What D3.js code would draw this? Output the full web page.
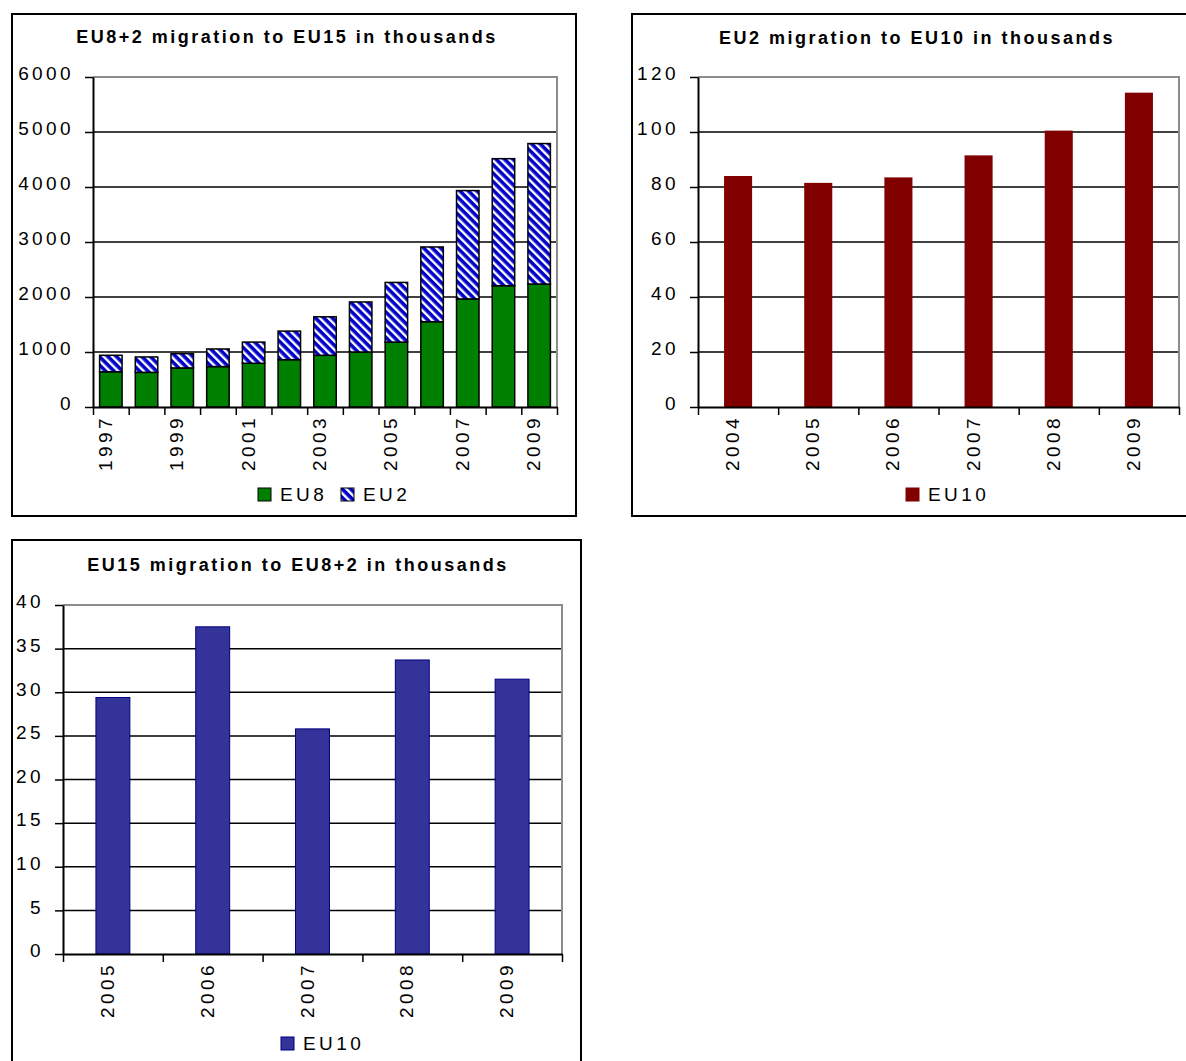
<!DOCTYPE html>
<html>
<head>
<meta charset="utf-8">
<script src="https://cdn.jsdelivr.net/npm/d3@7"></script>
<style>
  body { margin: 0; background: #fff; }
  svg { display: block; font-family: "Liberation Sans", Arial, sans-serif; }
</style>
</head>
<body>
<svg id="chart" width="1186" height="1061"></svg>
<script>
// EU8+2 migration to EU15, thousands (stacked)
const yearsA = ["1997","1998","1999","2000","2001","2002","2003","2004","2005","2006","2007","2008","2009"];
const eu8A   = [640, 630, 710, 735, 795, 860, 940, 1000, 1180, 1550, 1965, 2205, 2235];
const eu2A   = [300, 280, 260, 320, 385, 520, 700, 910, 1085, 1360, 1970, 2310, 2555];
const ticksA = [0, 1000, 2000, 3000, 4000, 5000, 6000];

// EU2 migration to EU10, thousands
const yearsB = ["2004","2005","2006","2007","2008","2009"];
const eu10B  = [84, 81.5, 83.5, 91.5, 100.5, 114.3];
const ticksB = [0, 20, 40, 60, 80, 100, 120];

// EU15 migration to EU8+2, thousands
const yearsC = ["2005","2006","2007","2008","2009"];
const eu10C  = [29.4, 37.5, 25.8, 33.7, 31.5];
const ticksC = [0, 5, 10, 15, 20, 25, 30, 35, 40];

const svg = d3.select("#chart");
const NUM_FS = 19, NUM_LS = 3.4;

// diagonal blue/white hatch used for the EU2 series
const defs = svg.append("defs");
const pat = defs.append("pattern")
  .attr("id", "hatch").attr("patternUnits", "userSpaceOnUse")
  .attr("width", 6).attr("height", 6)
  .attr("patternTransform", "rotate(-45)");
pat.append("rect").attr("width", 6).attr("height", 6).attr("fill", "#0000c8");
pat.append("rect").attr("x", 0).attr("width", 2.4).attr("height", 6).attr("fill", "#fff");

function panel(o) {
  const g = svg.append("g");
  g.append("rect")
    .attr("x", o.fx).attr("y", o.fy).attr("width", o.fw).attr("height", o.fh)
    .attr("fill", "#fff").attr("stroke", "#000").attr("stroke-width", 2);
  g.append("text")
    .attr("x", o.tx).attr("y", o.ty).attr("text-anchor", "middle")
    .attr("font-weight", "bold").attr("font-size", 18).attr("letter-spacing", 2.5)
    .text(o.title);

  const x = d3.scaleBand().domain(o.cats).range([o.x0, o.x1])
    .paddingInner(o.pad).paddingOuter(o.pad / 2);
  const y = d3.scaleLinear().domain([0, o.max]).range([o.y1, o.y0]);

  // horizontal gridlines
  g.selectAll(".grid").data(o.ticks.filter(t => t > 0 && t < o.max)).join("line")
    .attr("x1", o.x0).attr("x2", o.x1)
    .attr("y1", d => y(d)).attr("y2", d => y(d))
    .attr("stroke", "#000").attr("stroke-width", 1.5);
  // plot-area border (top and right)
  g.append("path")
    .attr("d", `M${o.x0},${y(o.max)}H${o.x1}V${o.y1}`)
    .attr("fill", "none").attr("stroke", "#8c8c8c").attr("stroke-width", 2);

  const bars = g.append("g");
  const axes = g.append("g");
  return { g, x, y, bars, axes, o };
}

function drawAxes(p) {
  const { x, y, axes, o } = p;
  const ya = axes.append("g").attr("transform", `translate(${o.x0},0)`)
    .call(d3.axisLeft(y).tickValues(o.ticks).tickSize(8).tickSizeOuter(0)
      .tickPadding(11).tickFormat(d3.format("d")));
  ya.select(".domain").attr("stroke", "#000").attr("stroke-width", 2);
  ya.selectAll(".tick line").attr("stroke", "#000").attr("stroke-width", 1.5);
  ya.selectAll(".tick text")
    .attr("font-size", NUM_FS).attr("letter-spacing", NUM_LS)
    .attr("fill", "#000").attr("font-family", "Liberation Sans, Arial, sans-serif")
    .attr("dy", "0.15em");

  // category boundary ticks
  const n = o.cats.length;
  const edge = d3.scaleLinear().domain([0, n]).range([o.x0, o.x1]);
  const xa = axes.append("g").attr("transform", `translate(0,${o.y1})`)
    .call(d3.axisBottom(edge).tickValues(d3.range(n + 1)).tickSize(8)
      .tickSizeOuter(0).tickFormat(""));
  xa.select(".domain").attr("stroke", "#000").attr("stroke-width", 2);
  xa.selectAll(".tick line").attr("stroke", "#000").attr("stroke-width", 1.5);

  // rotated year labels
  axes.selectAll(".xl").data(o.cats.filter((c, i) => i % o.every === 0)).join("text")
    .attr("transform", d => `translate(${x(d) + x.bandwidth() / 2 + 1},${o.y1 + 8}) rotate(-90)`)
    .attr("text-anchor", "end")
    .attr("font-size", NUM_FS).attr("letter-spacing", NUM_LS)
    .text(d => d);
}

function legend(g, items, lx, ly) {
  let cx = lx;
  items.forEach(it => {
    g.append("rect").attr("x", cx).attr("y", ly - 6).attr("width", 13).attr("height", 13)
      .attr("fill", it.fill).attr("stroke", it.stroke).attr("stroke-width", 1);
    g.append("text").attr("x", cx + 22).attr("y", ly + 7)
      .attr("font-size", NUM_FS).attr("letter-spacing", NUM_LS).text(it.label);
    cx += it.step || 0;
  });
}

// ---- Panel A: stacked EU8 / EU2 ----
const pA = panel({
  fx: 12, fy: 14, fw: 564, fh: 502,
  tx: 287, ty: 43, title: "EU8+2 migration to EU15 in thousands",
  cats: yearsA, x0: 93, x1: 557, y0: 77, y1: 407, max: 6000, ticks: ticksA,
  pad: 0.37, every: 2
});
const rowsA = yearsA.map((yr, i) => ({ yr, eu8: eu8A[i], eu2: eu2A[i] }));
pA.bars.selectAll(".b8").data(rowsA).join("rect")
  .attr("x", d => pA.x(d.yr)).attr("width", pA.x.bandwidth())
  .attr("y", d => pA.y(d.eu8)).attr("height", d => pA.y(0) - pA.y(d.eu8))
  .attr("fill", "#008000").attr("stroke", "#000").attr("stroke-width", 1.5);
pA.bars.selectAll(".b2").data(rowsA).join("rect")
  .attr("x", d => pA.x(d.yr)).attr("width", pA.x.bandwidth())
  .attr("y", d => pA.y(d.eu8 + d.eu2)).attr("height", d => pA.y(d.eu8) - pA.y(d.eu8 + d.eu2))
  .attr("fill", "url(#hatch)").attr("stroke", "#000").attr("stroke-width", 1.5);
drawAxes(pA);
legend(pA.g, [
  { fill: "#008000", stroke: "#000", label: "EU8", step: 83 },
  { fill: "url(#hatch)", stroke: "#000", label: "EU2" }
], 258, 494);

// ---- Panel B: EU2 -> EU10 ----
const pB = panel({
  fx: 632, fy: 14, fw: 580, fh: 502,
  tx: 917, ty: 44, title: "EU2 migration to EU10 in thousands",
  cats: yearsB, x0: 698, x1: 1179, y0: 77, y1: 407, max: 120, ticks: ticksB,
  pad: 0.65, every: 1
});
pB.bars.selectAll("rect").data(yearsB.map((yr, i) => ({ yr, v: eu10B[i] }))).join("rect")
  .attr("x", d => pB.x(d.yr)).attr("width", pB.x.bandwidth())
  .attr("y", d => pB.y(d.v)).attr("height", d => pB.y(0) - pB.y(d.v))
  .attr("fill", "#800000");
drawAxes(pB);
legend(pB.g, [{ fill: "#800000", stroke: "#800000", label: "EU10" }], 906, 494);

// ---- Panel C: EU15 -> EU8+2 ----
const pC = panel({
  fx: 12, fy: 540, fw: 569, fh: 540,
  tx: 298, ty: 571, title: "EU15 migration to EU8+2 in thousands",
  cats: yearsC, x0: 63, x1: 562, y0: 605, y1: 954, max: 40, ticks: ticksC,
  pad: 0.66, every: 1
});
pC.bars.selectAll("rect").data(yearsC.map((yr, i) => ({ yr, v: eu10C[i] }))).join("rect")
  .attr("x", d => pC.x(d.yr)).attr("width", pC.x.bandwidth())
  .attr("y", d => pC.y(d.v)).attr("height", d => pC.y(0) - pC.y(d.v))
  .attr("fill", "#333399").attr("stroke", "#000080").attr("stroke-width", 1);
drawAxes(pC);
legend(pC.g, [{ fill: "#333399", stroke: "#000080", label: "EU10" }], 281, 1043);
</script>
</body>
</html>
